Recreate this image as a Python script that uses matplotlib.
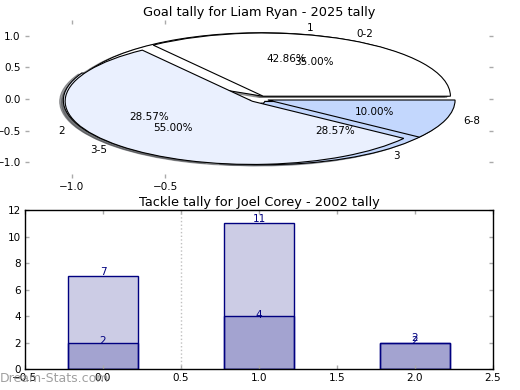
import numpy as np
import matplotlib
matplotlib.use('Agg')
import matplotlib.pyplot as plt

# pie data
goal_labels = ['1', '2', '3']
goal_counts = [3, 2, 2]
range_labels = ['0-2', '3-5', '6-8']
range_share = [35, 55, 10]
pie_colors = ['#ffffff', '#eaf0fe', '#c3d7fd']

# bar data
bar_x = [0, 1, 2]
tackles_total = [7, 11, 2]
tackles_part = [2, 4, 2]

fsz = 7.5
plt.rcParams['font.size'] = fsz

fig = plt.figure(figsize=(5.2, 3.9), dpi=100)
ax1 = fig.add_axes([0.048, 0.5436, 0.9, 0.405])
ax2 = fig.add_axes([0.048, 0.0538, 0.9, 0.4077])

# top: two pies on the same axes
for vals, labs in [(goal_counts, goal_labels), (range_share, range_labels)]:
    wedges, texts, autotexts = ax1.pie(vals, labels=labs, autopct='%.2f%%',
                                       explode=[0.05] * 3,
                                       shadow={'ox': -0.014, 'oy': -0.014},
                                       colors=pie_colors,
                                       wedgeprops={'edgecolor': 'black', 'linewidth': 0.8})
    for t in texts + autotexts:
        t.set_fontsize(fsz)

ax1.set_aspect('auto')
ax1.set_frame_on(False)
ax1.set_xlim(-1.25, 1.25)
ax1.set_ylim(-1.25, 1.25)
ax1.set_xticks([-1.0, -0.5])
ax1.set_yticks([-1.0, -0.5, 0.0, 0.5, 1.0])
ax1.set_title('Goal tally for Liam Ryan - 2025 tally', fontsize=9.3, pad=3)

# bottom: overlapping bars
ax2.bar(bar_x, tackles_total, width=0.45, color=(0, 0, 0.5, 0.2), edgecolor='navy', linewidth=1)
ax2.bar(bar_x, tackles_part, width=0.45, color=(0, 0, 0.5, 0.2), edgecolor='navy', linewidth=1)
for x, v in zip(bar_x, tackles_total):
    ax2.annotate(str(v), (x, v), xytext=(0, 3), textcoords='offset points',
                 ha='center', va='center', color='navy', fontsize=fsz)
for x, v in zip(bar_x, tackles_part):
    ax2.annotate(str(v), (x, v), xytext=(0, 1), textcoords='offset points',
                 ha='center', va='center', color='navy', fontsize=fsz)
ax2.axvline(0.5, color='#c0c0c0', linestyle=':', linewidth=1)
ax2.set_xlim(-0.5, 2.5)
ax2.set_ylim(0, 12)
ax2.set_xticks([-0.5, 0.0, 0.5, 1.0, 1.5, 2.0, 2.5])
ax2.set_yticks([0, 2, 4, 6, 8, 10, 12])
ax2.set_title('Tackle tally for Joel Corey - 2002 tally', fontsize=9.3, pad=3)
for sp in ax2.spines.values():
    sp.set_linewidth(1)

for ax in (ax1, ax2):
    ax.tick_params(direction='in', length=3, width=1, color='#aaaaaa',
                   top=True, right=True, labelsize=fsz, pad=3)

fig.text(0.0, 0.012, 'Dream-Stats.com', color='#888888', alpha=0.8, fontsize=9,
         ha='left', va='bottom', family='DejaVu Sans')

fig.savefig('out.png', dpi=100)
